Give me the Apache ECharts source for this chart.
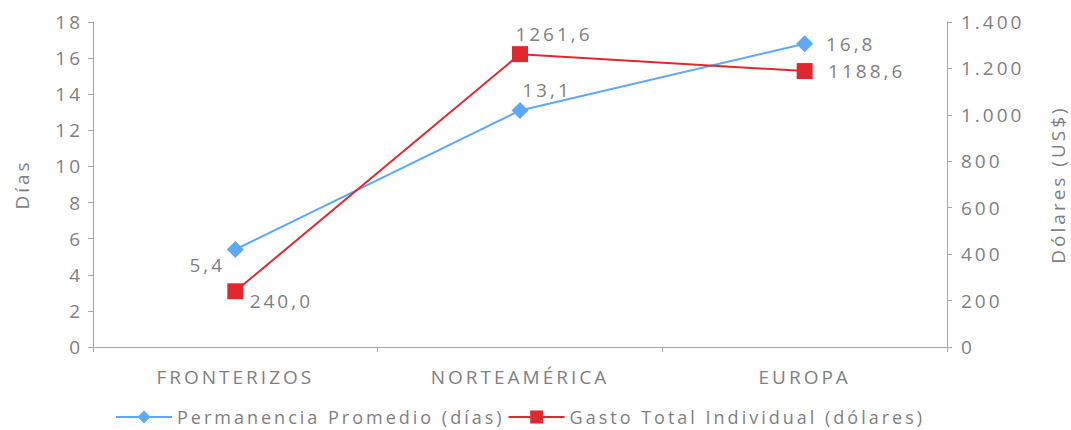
<!DOCTYPE html>
<html>
<head>
<meta charset="utf-8">
<script src="https://cdn.jsdelivr.net/npm/echarts@6/dist/echarts.min.js"></script>
<style>
  html, body { margin: 0; padding: 0; background: #fff; }
  #chart { width: 1071px; height: 430px; }
  #chart text { letter-spacing: 3px; }
</style>
</head>
<body>
<div id="chart"></div>
<script>
const categorias = ["FRONTERIZOS", "NORTEAMÉRICA", "EUROPA"];
const permanencia = [5.4, 13.1, 16.8];
const gasto = [240.0, 1261.6, 1188.6];
const nombrePermanencia = "Permanencia Promedio (días)";
const nombreGasto = "Gasto Total Individual (dólares)";

const gris = "#7f7f7f";
const fuente = "Open Sans";
const tam = 19;

const coma = (v) => v.toFixed(1).replace(".", ",");
const miles = (v) => String(v).replace(/\B(?=(\d{3})+(?!\d))/g, ".");

// desplazamientos de las etiquetas respecto al marcador
const despPermanencia = [[-28, 15], [27, -20], [46, 0]];
const despGasto = [[46, 10], [34, -20], [62, 0]];

const conEtiqueta = (valores, desp) =>
  valores.map((v, i) => ({
    value: v,
    label: { offset: desp[i] },
  }));

const chart = echarts.init(document.getElementById("chart"), null, { renderer: "svg" });

const etiqueta = {
  show: true,
  position: "inside",
  align: "center",
  verticalAlign: "middle",
  fontSize: tam,
  color: gris,
  formatter: (p) => coma(p.value),
};

const opciones = {
  animation: false,
  textStyle: { fontFamily: fuente, color: gris },
  grid: { left: 93, right: 124, top: 22, bottom: 83, outerBoundsMode: "none" },
  legend: {
    top: 403,
    left: 110,
    itemWidth: 56,
    itemHeight: 16,
    itemGap: 84,
    textStyle: { fontSize: 18, color: gris, fontFamily: fuente },
    data: [nombrePermanencia, nombreGasto],
  },
  xAxis: {
    type: "category",
    data: categorias,
    boundaryGap: true,
    axisLine: { lineStyle: { color: "#a6a6a6", width: 1 } },
    axisTick: { show: true, length: 5, lineStyle: { color: "#a6a6a6" } },
    axisLabel: { fontSize: tam, color: gris, margin: 20 },
  },
  yAxis: [
    {
      type: "value",
      min: 0,
      max: 18,
      interval: 2,
      name: "Días",
      nameLocation: "middle",
      nameGap: 62,
      nameTextStyle: { fontSize: tam, color: gris },
      axisLine: { show: true, lineStyle: { color: "#a6a6a6" } },
      axisTick: { show: true, length: 5, lineStyle: { color: "#a6a6a6" } },
      axisLabel: { fontSize: tam, color: gris, margin: 10 },
      splitLine: { show: false },
    },
    {
      type: "value",
      min: 0,
      max: 1400,
      interval: 200,
      name: "Dólares (US$)",
      nameLocation: "middle",
      nameGap: 101,
      nameRotate: 90,
      nameTextStyle: { fontSize: tam, color: gris },
      axisLine: { show: true, lineStyle: { color: "#a6a6a6" } },
      axisTick: { show: true, length: 5, lineStyle: { color: "#a6a6a6" } },
      axisLabel: { fontSize: tam, color: gris, margin: 14, formatter: miles },
      splitLine: { show: false },
    },
  ],
  series: [
    {
      name: nombrePermanencia,
      type: "line",
      yAxisIndex: 0,
      data: conEtiqueta(permanencia, despPermanencia),
      symbol: "diamond",
      symbolSize: 17,
      itemStyle: { color: "#5ea8f8" },
      lineStyle: { color: "#5ea8f8", width: 2 },
      label: etiqueta,
      z: 3,
    },
    {
      name: nombreGasto,
      type: "line",
      yAxisIndex: 1,
      data: conEtiqueta(gasto, despGasto),
      symbol: "rect",
      symbolSize: 16,
      itemStyle: { color: "#e0282e" },
      lineStyle: { color: "#e0282e", width: 2 },
      label: etiqueta,
      z: 4,
    },
  ],
};

chart.setOption(opciones);
</script>
</body>
</html>
